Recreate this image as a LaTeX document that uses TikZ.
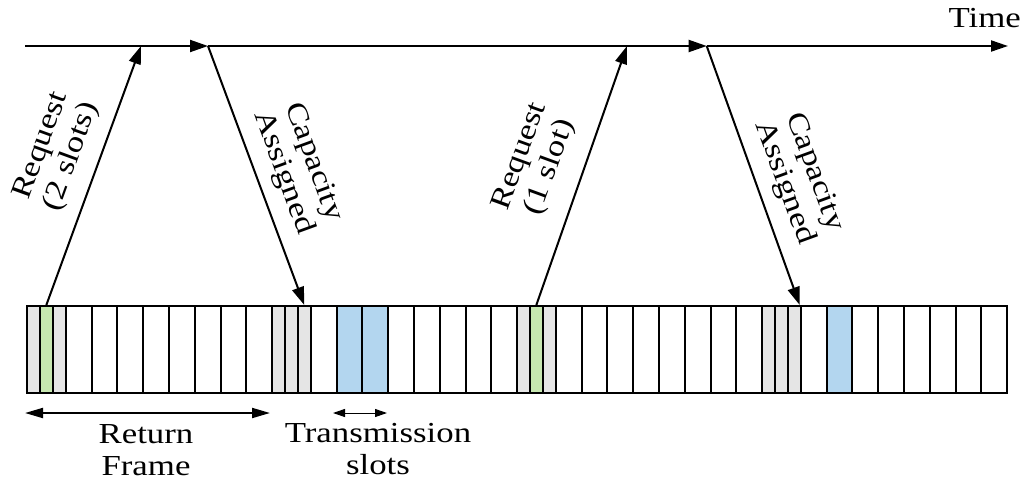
\documentclass[tikz,border=0pt]{standalone}
\usepackage{fontspec}
\setmainfont{Liberation Serif}[FakeStretch=1.2]
\usetikzlibrary{arrows.meta,calc}
\definecolor{slotgrey}{RGB}{229,229,229}
\definecolor{slotgreen}{RGB}{199,231,177}
\definecolor{slotblue}{RGB}{179,214,239}
\begin{document}
\begin{tikzpicture}[x=1pt,y=-1pt,
  slotbox/.style={draw=black, line width=2pt, inner sep=0pt, minimum height=87pt, anchor=north west},
  sig/.style={line width=2pt, -{Triangle[length=18pt,width=12pt]}},
  axisend/.style={line width=2pt, -{Triangle[length=17pt,width=11pt]}},
  lbl/.style={font=\fontsize{29}{32}\selectfont, align=center, inner sep=0pt},
  framespan/.style={line width=2pt, {Triangle[length=18pt,width=10pt]}-{Triangle[length=18pt,width=10pt]}},
  slotspan/.style={line width=1pt, {Triangle[length=12pt,width=8pt]}-{Triangle[length=12pt,width=8pt]}}]
\useasboundingbox (0,0) rectangle (1025,482);

% four return frames: 3 short control slots + 8 transmission slots each
\foreach [count=\n from 0] \c in {
  slotgrey,slotgreen,slotgrey,white,white,white,white,white,white,white,white,
  slotgrey,slotgrey,slotgrey,white,slotblue,slotblue,white,white,white,white,white,
  slotgrey,slotgreen,slotgrey,white,white,white,white,white,white,white,white,
  slotgrey,slotgrey,slotgrey,white,slotblue,white,white,white,white,white,white}{
  \pgfmathtruncatemacro\k{\n/11}
  \pgfmathtruncatemacro\i{\n-11*\k}
  \pgfmathsetmacro\xx{26+245*\k+(\i<3 ? \i*12.9 : 38.7+(\i-3)*25.8)}
  \pgfmathsetmacro\ww{\i<3 ? 12.9 : 25.8}
  \node[slotbox, fill=\c, minimum width=\ww pt] (slot-\k-\i) at (\xx,305) {};
}

% time axis
\coordinate (t0) at (25,46);
\coordinate (req1) at (141,46);
\coordinate (cap1) at (208,46);
\coordinate (req2) at (627,46);
\coordinate (cap2) at (706.7,46);
\coordinate (tend) at (1008,46);
\draw[sig] (t0) -- (cap1);
\draw[sig] (cap1) -- (cap2);
\draw[axisend] (cap2) -- (tend);
\node[lbl, anchor=base east] (ltime) at (1021,27) {Time};

% requests and assignments
\draw[sig] (slot-0-1.north) -- (req1);
\draw[sig] (cap1) -- (slot-1-2.north);
\draw[sig] (slot-2-1.north) -- (req2);
\draw[sig] (cap2) -- ([xshift=-2pt]slot-3-2.north east);

\node[lbl, rotate=70] (lreq1) at (57,151.5) {Request\\(2 slots)};
\node[lbl, rotate=-70] (lcap1) at (298,167.5) {Capacity\\Assigned};
\node[lbl, rotate=70] (lreq2) at (535.5,162) {Request\\(1 slot)};
\node[lbl, rotate=-70] (lcap2) at (799,177.5) {Capacity\\Assigned};

% dimension arrows
\coordinate (rf0) at (25,413);
\coordinate (rf1) at (270,413);
\coordinate (ts0) at (333,413);
\coordinate (ts1) at (387,413);
\draw[framespan] (rf0) -- (rf1);
\draw[slotspan] (ts0) -- (ts1);
\node[lbl] (lframe) at (146,450) {Return\\Frame};
\node[lbl] (lslots) at (378,449) {Transmission\\slots};
\end{tikzpicture}
\end{document}
